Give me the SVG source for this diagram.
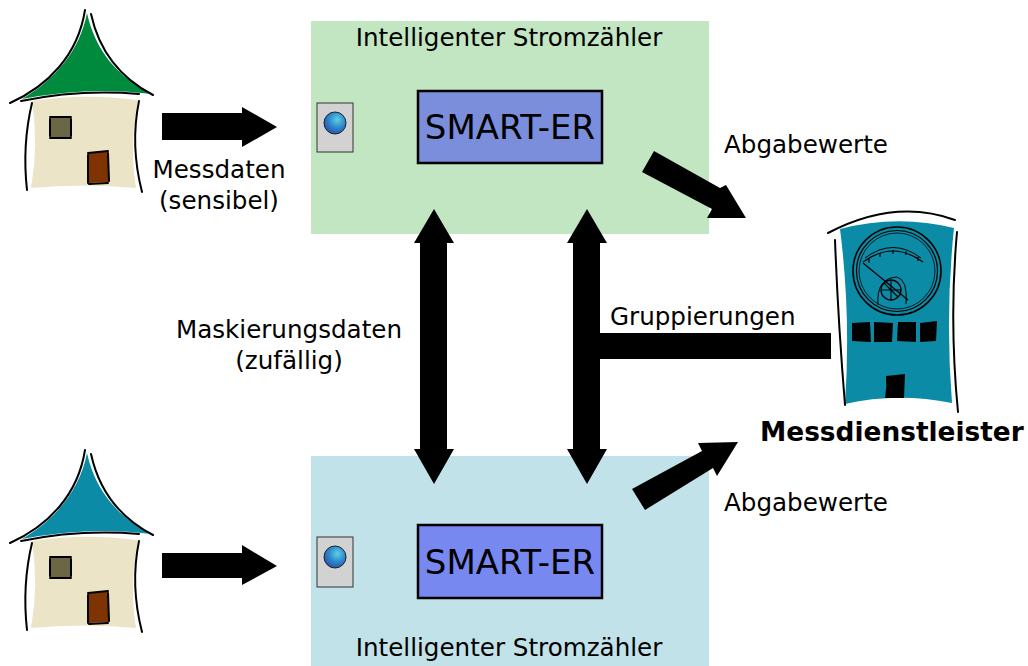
<svg xmlns="http://www.w3.org/2000/svg" xmlns:xlink="http://www.w3.org/1999/xlink" width="1028" height="666" viewBox="0 0 1028 666">
  <style>
    text { font-family: "DejaVu Sans", "Liberation Sans", sans-serif; fill: #000; }
    .lbl { font-size: 24.6px; }
    .mid { text-anchor: middle; }
    .big { font-size: 34px; }
    .bold { font-size: 26.4px; font-weight: bold; }
    .line { fill: none; stroke: #000; stroke-width: 2; stroke-linecap: round; }
    .arrow { fill: #000; }
    .chip { stroke: #000; stroke-width: 2.5; }
    .btn { fill: #d2d2d2; stroke: #333; stroke-width: 1; }
  </style>
  <defs>
    <radialGradient id="led" cx="0.6" cy="0.35" r="0.7">
      <stop offset="0" stop-color="#5fd0e0"/>
      <stop offset="0.5" stop-color="#2d8cd0"/>
      <stop offset="1" stop-color="#2a4fa8"/>
    </radialGradient>
    <!-- small house; roof colour taken from currentColor -->
    <g id="house">
      <path d="M87,13 C95,50 118,78 152,94 Q90,86 22,99 C55,80 80,50 87,13 Z" fill="currentColor"/>
      <path d="M32,101 Q85,93 138,100 Q129,145 136,188 Q85,183 31,188 Q39,145 32,101 Z" fill="#ebe4c6"/>
      <path class="line" d="M10,103 C48,86 78,55 85,10"/>
      <path class="line" d="M91,14 C100,55 124,80 153,95"/>
      <path class="line" d="M21,101 Q80,89 139,94"/>
      <path class="line" d="M32,103 Q22,145 27,190"/>
      <path class="line" d="M139,101 Q130,145 142,192"/>
      <rect x="50" y="117" width="21" height="21" fill="#6b6644"/>
      <path class="line" d="M50,117 L71,117 M50,138 L71,138 M50,119 L50,136 M71,119 L71,136" stroke-width="1.6"/>
      <path d="M88,153 L108,151 L109,182 L88,183 Z" fill="#7f3300"/>
      <path class="line" d="M88,153 L108,151 M88,155 L88,183 M108,153 L109,181 M89,184 L108,183" stroke-width="1.6"/>
    </g>
  </defs>

  <!-- meter housings -->
  <g id="meter-top">
    <rect x="311" y="21" width="398" height="213" fill="#c2e5c2"/>
    <text class="lbl mid" x="509" y="46">Intelligenter Stromzähler</text>
    <rect class="btn" x="317" y="103" width="36" height="49"/>
    <circle cx="335" cy="123" r="11" fill="url(#led)" stroke="#222" stroke-width="1"/>
    <rect class="chip" x="418" y="91" width="184" height="72" fill="#7a8edb"/>
    <text class="big mid" x="510" y="139">SMART-ER</text>
  </g>

  <g id="meter-bottom">
    <rect x="311" y="456" width="398" height="210" fill="#c1e2e8"/>
    <text class="lbl mid" x="509" y="656">Intelligenter Stromzähler</text>
    <rect class="btn" x="317" y="537" width="36" height="50"/>
    <circle cx="335" cy="557" r="11" fill="url(#led)" stroke="#222" stroke-width="1"/>
    <rect class="chip" x="418" y="525" width="184" height="73" fill="#7788f0"/>
    <text class="big mid" x="510" y="574">SMART-ER</text>
  </g>

  <g id="house-top">
    <use xlink:href="#house" color="#008a3e"/>
  </g>
  <g id="house-bottom">
    <use xlink:href="#house" transform="translate(0,440)" color="#0b8ba6"/>
  </g>

  <g id="provider">
    <path d="M840,229 Q897,214 954,228 Q945,315 952,403 Q897,392 845,404 Q851,315 840,229 Z" fill="#0b8ba6"/>
    <path class="line" d="M828,233 Q895,198 955,220" stroke-width="2.4"/>
    <path class="line" d="M835,240 Q838,320 845,405" stroke-width="2.2"/>
    <path class="line" d="M957,232 Q949,320 958,412" stroke-width="2.2"/>
    <!-- dial -->
    <g fill="none" stroke="#000">
      <circle cx="897" cy="271" r="44" stroke-width="1.6"/>
      <circle cx="897" cy="271" r="40.5" stroke-width="1.2"/>
      <circle cx="897" cy="271" r="38" stroke-width="0.8"/>
      <path d="M863,262 Q893,240 923,262" stroke-width="1.2"/>
      <path d="M865,258 Q893,237 921,258" stroke-width="1"/>
      <path d="M869,259 L869,263 M880,253 L880,257 M893,250 L893,254 M906,251 L906,255 M918,257 L918,261" stroke-width="1.2"/>
      <path d="M863,263 L908,300" stroke-width="1.3"/>
      <circle cx="891" cy="290" r="10" stroke-width="1.3"/>
      <path d="M891,280 L891,300 M881,290 L901,290 M884,283 L898,297" stroke-width="1.1"/>
      <path d="M878,305 Q876,278 897,277 Q908,280 906,304" stroke-width="1"/>
    </g>
    <path d="M852,323 L870,322 L871,342 L852,341 Z M874,322 L893,323 L892,342 L874,342 Z M898,322 L916,322 L916,342 L897,341 Z M920,323 L937,321 L936,341 L920,342 Z" fill="#000"/>
    <path d="M886,376 L905,374 L904,398 L885,398 Q887,387 886,376 Z" fill="#000"/>
    <text class="bold" x="760" y="441">Messdienstleister</text>
  </g>

  <g id="connectors">
    <!-- houses to meters -->
    <polygon class="arrow" points="162,113 242,113 242,107 277,127 242,147 242,140 162,140"/>
    <polygon class="arrow" points="162,553 242,553 242,545 277,566 242,585 242,578 162,578"/>
    <!-- masking data exchange -->
    <polygon class="arrow" points="434,209 454,243 447,243 447,449 454,449 434,484 414,449 420,449 420,243 414,243"/>
    <!-- groupings -->
    <polygon class="arrow" points="587,209 607,243 600,243 600,333 831,333 831,359 600,359 600,449 607,449 587,484 567,449 573,449 573,243 567,243"/>
    <!-- readings to provider -->
    <polygon class="arrow" points="654,151 720,188 726,185 746,218 707,218 712,209 642,172"/>
    <polygon class="arrow" points="632,489 702,451 698,443 738,442 717,476 713,468 645,510"/>
  </g>

  <g id="labels">
    <text class="lbl mid" x="219" y="178">Messdaten</text>
    <text class="lbl mid" x="219" y="209">(sensibel)</text>
    <text class="lbl" x="724" y="153">Abgabewerte</text>
    <text class="lbl" x="724" y="511">Abgabewerte</text>
    <text class="lbl" x="610" y="325">Gruppierungen</text>
    <text class="lbl mid" x="289" y="338">Maskierungsdaten</text>
    <text class="lbl mid" x="289" y="369">(zufällig)</text>
  </g>
</svg>
